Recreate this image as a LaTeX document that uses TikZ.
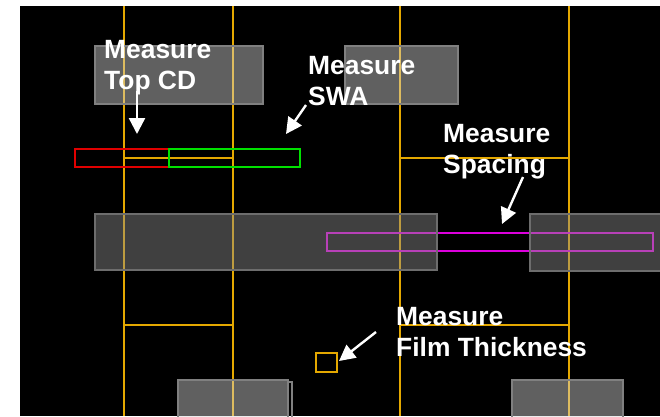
\documentclass[tikz,border=0pt]{standalone}
\usepackage{fontspec}
\setmainfont{Liberation Sans}
\usetikzlibrary{arrows.meta}

\begin{document}
\begin{tikzpicture}[
  x=1pt, y=-1pt,
  font=\bfseries\fontsize{26.4}{31.5}\selectfont,
  >={Triangle[length=16pt,width=16pt]},
  gate/.style={draw=cGold, line width=1.6pt},
  padTop/.style={fill=cPadA, fill opacity=0.45, draw=cEdge, line width=1.5pt},
  padMid/.style={fill=cPadB, fill opacity=0.45, draw=cEdge!85!black, line width=1.5pt},
  meas/.style={line width=1.6pt},
  lbl/.style={text=white, anchor=north west, inner sep=0pt, align=left},
  callout/.style={draw=white, line width=2.4pt, ->},
]
\definecolor{cGold}{RGB}{228,168,0}
\definecolor{cRed}{RGB}{225,0,0}
\definecolor{cGreen}{RGB}{0,225,0}
\definecolor{cMag}{RGB}{220,0,220}
\definecolor{cPadA}{RGB}{213,213,213}
\definecolor{cPadB}{RGB}{142,142,142}
\definecolor{cEdge}{RGB}{128,128,128}

% ============================================================================
% canvas: white strip left/top, black field
% ============================================================================
\useasboundingbox (0,0) rectangle (660,416);
\fill[black] (20,6) rectangle (660,416);

% ============================================================================
% gate lines (vertical) and rungs (horizontal)
% ============================================================================
\foreach \gx in {124,233,400,569} {
  \draw[gate] (\gx,6) -- (\gx,416);
}
\foreach \gy in {158,325} {
  \draw[gate] (124,\gy) -- (233,\gy);
  \draw[gate] (400,\gy) -- (569,\gy);
}

% spacing box sits under the pads
\draw[cMag, meas] (327,233) rectangle (653,251);

% ============================================================================
% pads (semi-transparent over the gates)
% ============================================================================
\draw[padTop] (95,46) rectangle (263,104);
\draw[padTop] (345,46) rectangle (458,104);

\draw[padMid] (95,214) rectangle (437,270);
\draw[padMid] (530,214) rectangle (668,271);

\draw[padTop] (178,380) rectangle (288,422);
\draw[padTop] (512,380) rectangle (623,422);
\draw[cEdge, line width=1.5pt] (288,382) -- (292,382) -- (292,422);

% ============================================================================
% measurement boxes
% ============================================================================
\draw[cRed, meas] (75,149) rectangle (169,167);
\draw[cGreen, meas] (169,149) rectangle (300,167);
\draw[cGold, line width=2pt] (316,353) rectangle (337,372);

% ============================================================================
% labels and callout arrows
% ============================================================================
\node[lbl] (lblTopCD) at (104,40) {Measure\\Top CD};
\node[lbl] (lblSWA) at (308,56) {Measure\\SWA};
\node[lbl] (lblSpace) at (443,124) {Measure\\Spacing};
\node[lbl] (lblFilm) at (396,307) {Measure\\Film Thickness};

\coordinate (topCDtail) at (137,91);
\coordinate (topCDtip) at (137,134);
\coordinate (swaTail) at (306,105);
\coordinate (swaTip) at (286,134);
\coordinate (spaceTail) at (523,177);
\coordinate (spaceTip) at (502,224);
\coordinate (filmTail) at (376,332);
\coordinate (filmTip) at (339,361);

\draw[callout] (topCDtail) -- (topCDtip);
\draw[callout] (swaTail) -- (swaTip);
\draw[callout] (spaceTail) -- (spaceTip);
\draw[callout] (filmTail) -- (filmTip);

\end{tikzpicture}
\end{document}
